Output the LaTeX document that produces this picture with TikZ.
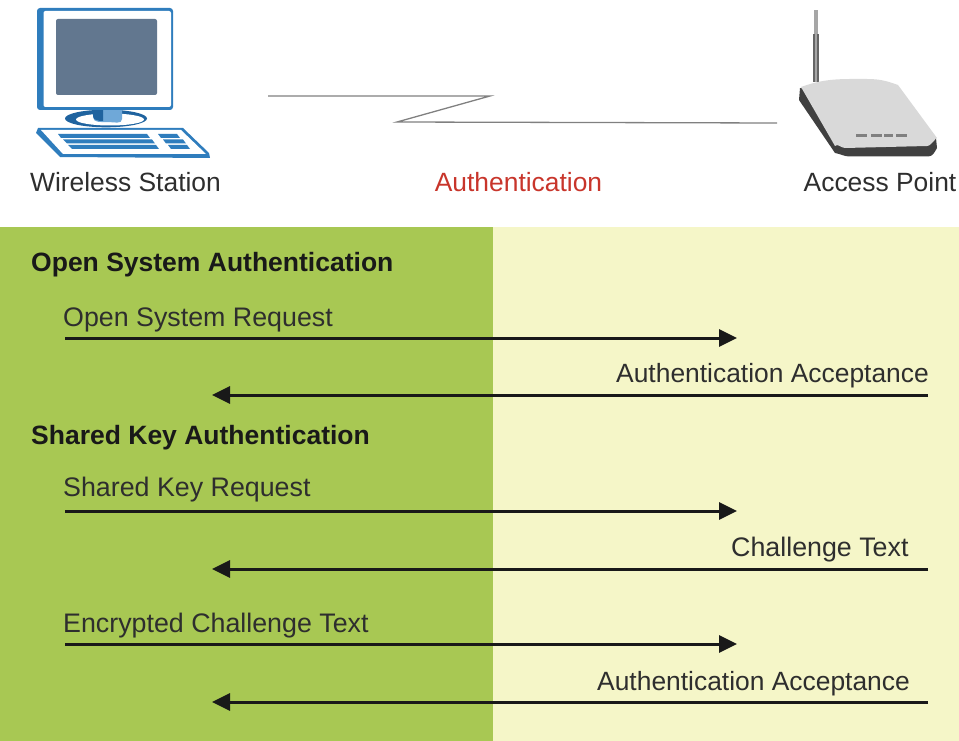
\documentclass[tikz,border=0pt]{standalone}
\usepackage{fontspec}
\setmainfont{Liberation Sans}
\usetikzlibrary{arrows.meta}
\definecolor{leftgreen}{HTML}{A8C853}
\definecolor{rightpale}{HTML}{F5F6C8}
\definecolor{pcblue}{HTML}{2F7DBD}
\definecolor{pcdark}{HTML}{1F639F}
\definecolor{pclight}{HTML}{6FA8D8}
\definecolor{screengray}{HTML}{62778F}
\definecolor{authred}{HTML}{C8352B}
\tikzset{
  x=1pt,y=-1pt,
  lbl/.style={anchor=base west,inner sep=0pt,font=\fontsize{26.4}{30}\selectfont,text=black!82},
  lblwide/.style={lbl,font=\fontsize{26.8}{30}\selectfont},
  head/.style={anchor=base west,inner sep=0pt,font=\fontsize{26.5}{30}\selectfont\bfseries,text=black!90},
  msg/.style={draw=black!90,line width=3pt,-{Triangle[length=18pt,width=17pt]}},
  zig/.style={draw=black!50,line width=1.3pt,line join=miter},
}
\begin{document}
\begin{tikzpicture}
\useasboundingbox (0,0) rectangle (959,741);
% background panels
\fill[leftgreen] (0,227) rectangle (493,741);
\fill[rightpale] (493,227) rectangle (959,741);
% computer: stand
\fill[pcdark] (106,118.5) ellipse [x radius=41,y radius=8.8];
\fill[white] (110,119.5) ellipse [x radius=34,y radius=6];
\fill[pclight] (93,108) -- (122,108) -- (122,118) to[out=90,in=0] (122,119) to[out=-90,in=0] (108,122) to[out=180,in=-90] (93,117) -- cycle;
\fill[pcdark] (93,108) -- (103,108) -- (103,121) to[out=180,in=-90] (93,116) -- cycle;
% computer: monitor
\fill[pcblue,rounded corners=3pt] (37,8) rectangle (173,110);
\fill[white,rounded corners=2pt] (43.5,11) -- (171,11) -- (171,107) -- (43.5,107) -- cycle;
\fill[screengray,rounded corners=2pt] (56,19) rectangle (157,95);
% computer: keyboard
\fill[pcblue] (36,133) -- (60,157) -- (210,158) -- (209,153) -- (183,128) -- (38,128) -- cycle;
\fill[white] (41,130) -- (181,130) -- (206,154) -- (63,154) -- cycle;
\fill[pcblue] (58,134) -- (147,134) -- (150,138) -- (61,138) -- cycle;
\fill[pcblue] (63,139.5) -- (152,139.5) -- (155,143.5) -- (67,143.5) -- cycle;
\fill[pcblue] (68,145) -- (156,145) -- (159,149) -- (72,149) -- cycle;
\fill[pcblue] (158,134) -- (177,134) -- (180,138) -- (161,138) -- cycle;
\fill[pcblue] (163,139.5) -- (183,139.5) -- (186,143.5) -- (166,143.5) -- cycle;
\fill[pcblue] (168,145) -- (187,145) -- (190,149) -- (171,149) -- cycle;
% access point: antenna
\fill[black!35] (814,10) -- (818,10) -- (818,34) -- (814,34) -- cycle;
\fill[black!60] (812.5,34) -- (819,34) -- (819,82) -- (812.5,82) -- cycle;
\fill[black!35] (814.5,34) rectangle (816.5,82);
% access point: body
\fill[black!75] (800,88) -- (799,100) -- (835,153) to[out=-10,in=180] (850,156.5) -- (928,156.5) to[out=0,in=-120] (937,148) -- (936,138) -- (860,100) -- cycle;
\fill[black!15] (801,87) to[out=20,in=180] (867,79) to[out=0,in=160] (898,85) -- (937,138) to[out=70,in=0] (927,146) -- (845,148) to[out=180,in=50] (835,146) -- cycle;
\foreach \xa/\xb in {856/867,871/882,884/893,896/907}{\fill[black!50] (\xa,133.8) rectangle (\xb,136.8);}
% radio link
\coordinate (zigA) at (268,96);
\coordinate (zigB) at (490,96);
\coordinate (zigC) at (397,122);
\coordinate (zigD) at (777,123);
\draw[zig] (zigA) -- (zigB) -- (zigC) -- (zigD);
% top labels
\node[lbl,anchor=base] (station) at (125.5,191) {Wireless Station};
\node[lbl,anchor=base,text=authred] (auth) at (518.5,191) {Authentication};
\node[lbl,anchor=base] (ap) at (880,191) {Access Point};
% open system
\node[head] (open) at (31,271) {Open System Authentication};
\node[lblwide] (m1) at (63,326) {Open System Request};
\node[lbl] (m2) at (616,382) {Authentication Acceptance};
\coordinate (a1s) at (65,338); \coordinate (a1e) at (737,338);
\coordinate (a2s) at (928,395); \coordinate (a2e) at (212,395);
\draw[msg] (a1s) -- (a1e);
\draw[msg] (a2s) -- (a2e);
% shared key
\node[head] (shared) at (31,444) {Shared Key Authentication};
\node[lblwide] (m3) at (63,496) {Shared Key Request};
\node[lblwide] (m4) at (731,556) {Challenge Text};
\node[lblwide] (m5) at (63,632) {Encrypted Challenge Text};
\node[lbl] (m6) at (597,690) {Authentication Acceptance};
\coordinate (a3s) at (65,511); \coordinate (a3e) at (737,511);
\coordinate (a4s) at (928,569); \coordinate (a4e) at (212,569);
\coordinate (a5s) at (65,644); \coordinate (a5e) at (737,644);
\coordinate (a6s) at (928,702); \coordinate (a6e) at (212,702);
\draw[msg] (a3s) -- (a3e);
\draw[msg] (a4s) -- (a4e);
\draw[msg] (a5s) -- (a5e);
\draw[msg] (a6s) -- (a6e);
\end{tikzpicture}
\end{document}
